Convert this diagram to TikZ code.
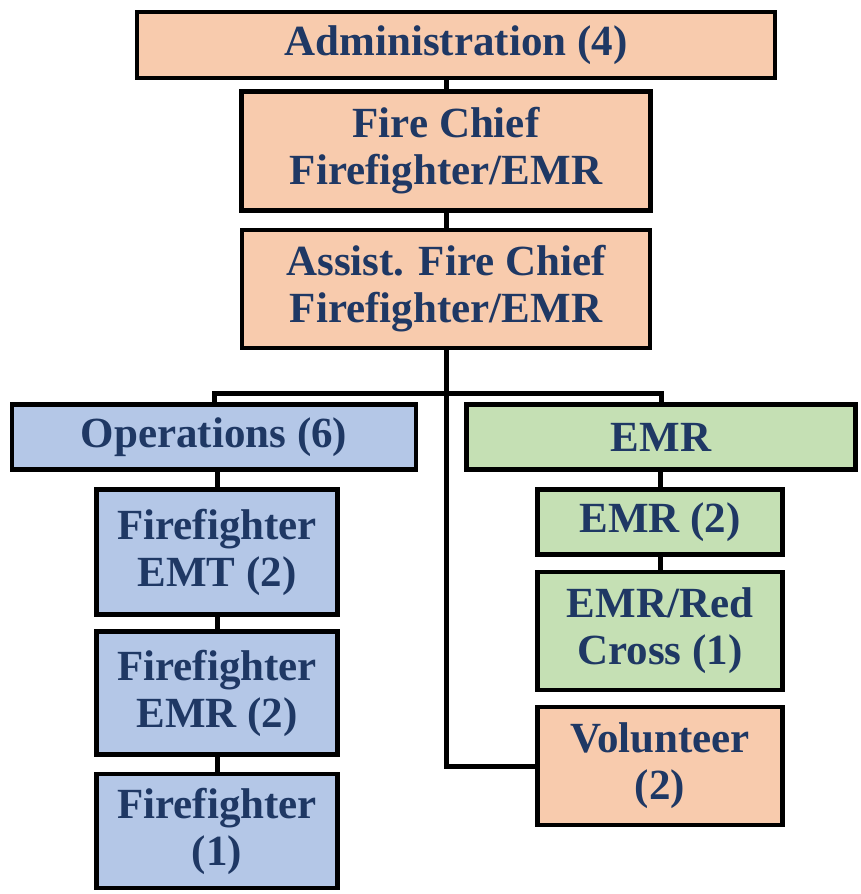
\documentclass[tikz,border=0pt]{standalone}
\usepackage{fontspec}
\setmainfont{Liberation Serif}
\definecolor{peach}{HTML}{F8CBAD}
\definecolor{opsblue}{HTML}{B4C7E7}
\definecolor{medgreen}{HTML}{C5E0B4}
\definecolor{navy}{HTML}{1F3864}
\tikzset{
  unit/.style={draw=black, line width=4.5pt, align=center, inner sep=0pt,
    text=navy, font=\fontsize{43}{47}\selectfont\bfseries},
  adminbox/.style={unit, fill=peach},
  opsbox/.style={unit, fill=opsblue},
  medbox/.style={unit, fill=medgreen},
  link/.style={line width=5pt}
}
\begin{document}
\begin{tikzpicture}[x=1pt,y=-1pt]
  \useasboundingbox (0,0) rectangle (861,894);
  % top of the chain
  \node[adminbox, minimum width=638pt, minimum height=66pt] (adm) at (456,45) {Administration (4)};
  \node[adminbox, minimum width=409pt, minimum height=119pt] (chief) at (446,151) {Fire Chief\\Firefighter/EMR};
  \node[adminbox, minimum width=408pt, minimum height=118pt] (assist) at (446,289) {Assist. Fire Chief\\Firefighter/EMR};
  % two branches
  \node[opsbox, minimum width=404pt, minimum height=65pt] (ops) at (214,437) {Operations (6)};
  \node[medbox, minimum width=389pt, minimum height=65pt] (emr) at (661,437) {EMR};
  \node[opsbox, minimum width=241pt, minimum height=125pt] (ffemt) at (217,552) {Firefighter\\EMT (2)};
  \node[opsbox, minimum width=241pt, minimum height=123pt] (ffemr) at (217,693) {Firefighter\\EMR (2)};
  \node[opsbox, minimum width=241pt, minimum height=114pt] (ffone) at (217,831) {Firefighter\\(1)};
  \node[medbox, minimum width=245pt, minimum height=65pt] (emrtwo) at (660,522) {EMR (2)};
  \node[medbox, minimum width=245pt, minimum height=118pt] (redx) at (660,631) {EMR/Red\\Cross (1)};
  \node[adminbox, minimum width=245pt, minimum height=118pt] (vol) at (660,766) {Volunteer\\(2)};
  \coordinate (bus) at (0,393);
  % connectors
  \draw[link] (chief.north) -- (chief.north |- adm.south);
  \draw[link] (chief.south) -- (assist.north);
  \draw[link] (ops.north) -- (ops.north |- bus) -- (emr.north |- bus) -- (emr.north);
  \draw[link] (assist.south) |- (vol.west);
  \draw[link] (ffemt.north) -- (ffemt.north |- ops.south);
  \draw[link] (ffemt.south) -- (ffemr.north);
  \draw[link] (ffemr.south) -- (ffone.north);
  \draw[link] (emrtwo.north) -- (emrtwo.north |- emr.south);
  \draw[link] (emrtwo.south) -- (redx.north);
\end{tikzpicture}
\end{document}
